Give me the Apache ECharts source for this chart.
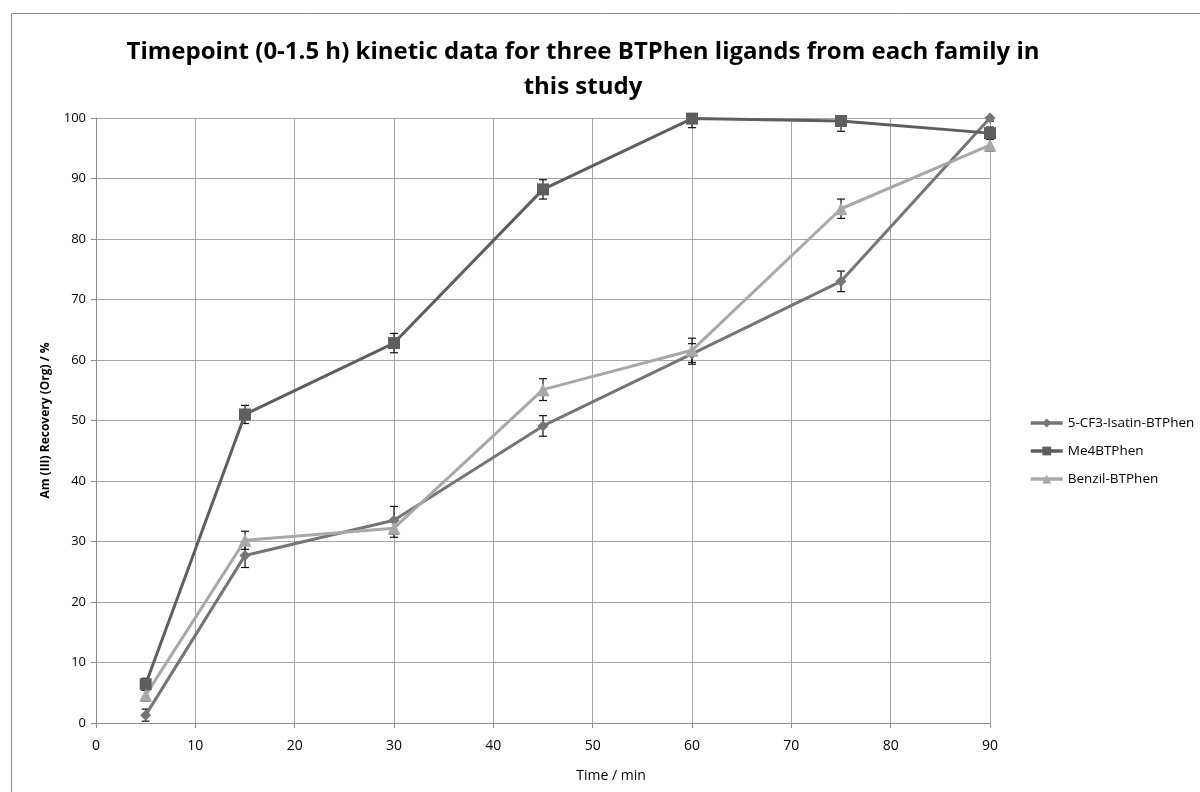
<!DOCTYPE html>
<html>
<head>
<meta charset="utf-8">
<script src="https://cdn.jsdelivr.net/npm/echarts@6/dist/echarts.min.js"></script>
<style>
html,body{margin:0;padding:0;background:#fff;}
#chart{width:1200px;height:792px;}
</style>
</head>
<body>
<div id="chart"></div>
<script>
// ---- data ----
var timeMin = [5, 15, 30, 45, 60, 75, 90];
var seriesNames = ['5-CF3-Isatin-BTPhen', 'Me4BTPhen', 'Benzil-BTPhen'];
var cf3Isatin = [1.3, 27.7, 33.5, 49.1, 61.0, 73.0, 100.0];
var cf3IsatinErr = [1.0, 2.0, 2.3, 1.7, 1.7, 1.7, 0.5];
var me4 = [6.4, 51.0, 62.8, 88.2, 99.9, 99.5, 97.5];
var me4Err = [1.0, 1.5, 1.6, 1.6, 1.5, 1.7, 1.0];
var benzil = [4.6, 30.2, 32.2, 55.1, 61.6, 85.0, 95.5];
var benzilErr = [1.0, 1.5, 1.5, 1.8, 2.0, 1.6, 1.0];
var xTicks = [0, 10, 20, 30, 40, 50, 60, 70, 80, 90];
var yTicks = [0, 10, 20, 30, 40, 50, 60, 70, 80, 90, 100];

var FONT = '"Open Sans", "Noto Sans", sans-serif';

function pairs(vals) {
  return timeMin.map(function (t, i) { return [t, vals[i]]; });
}
function errData(vals, errs) {
  return timeMin.map(function (t, i) { return [t, vals[i] - errs[i], vals[i] + errs[i]]; });
}
function errSeries(vals, errs) {
  return {
    type: 'custom',
    data: errData(vals, errs),
    encode: { x: 0, y: [1, 2] },
    z: 1,
    silent: true,
    renderItem: function (params, api) {
      var x = api.value(0);
      var lo = Math.max(0, api.value(1));
      var hi = Math.min(100, api.value(2));
      var pLo = api.coord([x, lo]);
      var pHi = api.coord([x, hi]);
      var w = 4;
      var st = { stroke: '#111', lineWidth: 1.2 };
      return {
        type: 'group',
        children: [
          { type: 'line', shape: { x1: pLo[0], y1: pLo[1], x2: pHi[0], y2: pHi[1] }, style: st },
          { type: 'line', shape: { x1: pLo[0] - w, y1: pLo[1], x2: pLo[0] + w, y2: pLo[1] }, style: st },
          { type: 'line', shape: { x1: pHi[0] - w, y1: pHi[1], x2: pHi[0] + w, y2: pHi[1] }, style: st }
        ]
      };
    }
  };
}

var colors = ['#757575', '#5e5e5e', '#a8a8a8'];

var chart = echarts.init(document.getElementById('chart'));
chart.setOption({
  backgroundColor: '#fff',
  animation: false,
  title: {
    text: 'Timepoint (0-1.5 h) kinetic data for three BTPhen ligands from each family in\nthis study',
    left: 578,
    top: 30,
    textAlign: 'center',
    textStyle: { fontFamily: FONT, fontWeight: 'bold', fontSize: 24, color: '#000', lineHeight: 35 }
  },
  graphic: [{
    type: 'rect',
    shape: { x: 11.5, y: 13.5, width: 1300, height: 900 },
    style: { fill: 'none', stroke: '#8a8a8a', lineWidth: 1 },
    silent: true
  }],
  legend: {
    orient: 'vertical',
    left: 1024,
    top: 411,
    itemGap: 14,
    itemWidth: 32,
    itemHeight: 11,
    data: seriesNames,
    lineStyle: { width: 3.5 },
    textStyle: { fontFamily: FONT, fontSize: 13.5, color: '#000' }
  },
  grid: { left: 96, right: 210, top: 118, bottom: 69, containLabel: false },
  xAxis: {
    type: 'value',
    min: 0, max: 90, interval: 10,
    name: 'Time / min',
    nameLocation: 'middle',
    nameGap: 46,
    nameTextStyle: { fontFamily: FONT, fontSize: 14, color: '#000', padding: [0, 0, 0, 136] },
    axisLine: { show: true, lineStyle: { color: '#8c8c8c', width: 1 } },
    axisTick: { show: true, length: 5, lineStyle: { color: '#8c8c8c' } },
    axisLabel: { fontFamily: FONT, fontSize: 14, color: '#000', margin: 16 },
    splitLine: { show: true, lineStyle: { color: '#a6a6a6', width: 1 } }
  },
  yAxis: {
    type: 'value',
    min: 0, max: 100, interval: 10,
    name: 'Am (III) Recovery (Org) / %',
    nameLocation: 'middle',
    nameGap: 44,
    nameTextStyle: { fontFamily: FONT, fontSize: 12, fontWeight: 'bold', color: '#000' },
    axisLine: { show: true, lineStyle: { color: '#8c8c8c', width: 1 } },
    axisTick: { show: true, length: 5, lineStyle: { color: '#8c8c8c' } },
    axisLabel: { fontFamily: FONT, fontSize: 13, color: '#000', margin: 10 },
    splitLine: { show: true, lineStyle: { color: '#a6a6a6', width: 1 } }
  },
  series: [
    {
      name: seriesNames[0], type: 'line', data: pairs(cf3Isatin),
      symbol: 'diamond', symbolSize: 11, z: 3,
      lineStyle: { color: colors[0], width: 3 },
      itemStyle: { color: colors[0] }
    },
    {
      name: seriesNames[1], type: 'line', data: pairs(me4),
      symbol: 'rect', symbolSize: 12, z: 3,
      lineStyle: { color: colors[1], width: 3 },
      itemStyle: { color: colors[1] }
    },
    {
      name: seriesNames[2], type: 'line', data: pairs(benzil),
      symbol: 'triangle', symbolSize: 13, z: 3,
      lineStyle: { color: colors[2], width: 3 },
      itemStyle: { color: colors[2] }
    },
    errSeries(cf3Isatin, cf3IsatinErr),
    errSeries(me4, me4Err),
    errSeries(benzil, benzilErr)
  ]
});
</script>
</body>
</html>
